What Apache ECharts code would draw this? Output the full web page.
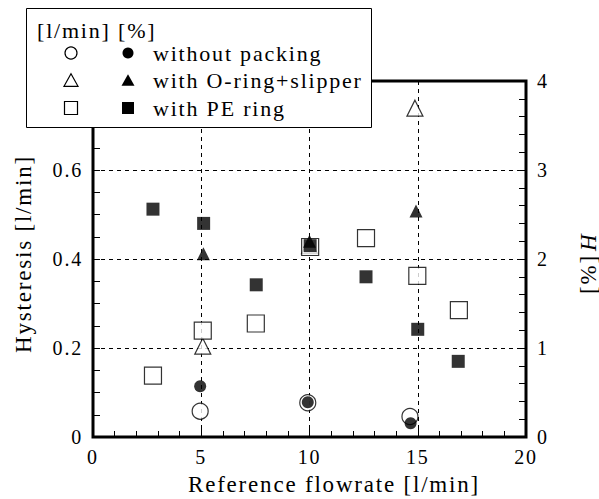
<!DOCTYPE html>
<html>
<head>
<meta charset="utf-8">
<script src="https://cdn.jsdelivr.net/npm/echarts@6/dist/echarts.min.js"></script>
<style>
html, body { margin: 0; padding: 0; background: #fff; }
#chart { width: 599px; height: 499px; }
/* Times-like face with slightly open character spacing, as in the printed figure */
#chart svg text { font-family: "Liberation Serif", "Times New Roman", serif !important; letter-spacing: 1.8px; }
</style>
</head>
<body>
<div id="chart"></div>
<script>
// Hysteresis of the flowmeter against reference flowrate, three sealing variants.
// Open symbols: hysteresis in l/min (left axis). Filled symbols: hysteresis in % (right axis).

var noPackFlowLpm   = [4.95, 9.92, 14.64];
var noPackHysLpm    = [0.058, 0.077, 0.046];
var noPackFlowPct   = [4.95, 9.92, 14.67];
var noPackHysPct    = [0.57, 0.39, 0.155];

var oringFlowLpm    = [5.07, 10.0, 14.87];
var oringHysLpm     = [0.204, 0.43, 0.739];
var oringFlowPct    = [5.1, 10.0, 14.92];
var oringHysPct     = [2.06, 2.2, 2.54];

var peFlowLpm       = [2.77, 5.07, 7.52, 10.03, 12.61, 14.98, 16.9];
var peHysLpm        = [0.138, 0.239, 0.255, 0.427, 0.447, 0.362, 0.285];
var peFlowPct       = [2.77, 5.11, 7.54, 10.03, 12.61, 15.0, 16.87];
var peHysPct        = [2.56, 2.40, 1.71, 2.15, 1.80, 1.21, 0.85];

var legendLabels    = ['without packing', 'with O-ring+slipper', 'with PE ring'];
var legendHeader    = '[l/min] [%]';
var xTitle          = 'Reference flowrate [l/min]';
var yLeftTitle      = 'Hysteresis [l/min]';

var FONT = 'Liberation Serif';

function pairs(xs, ys) {
  return xs.map(function (x, i) { return [x, ys[i]]; });
}

var hollow = { color: '#fff', borderColor: '#000', borderWidth: 1.2 };
var solid  = { color: '#000', borderWidth: 0 };

function scatter(name, data, axis, symbol, size, style) {
  return {
    name: name, type: 'scatter', yAxisIndex: axis, data: data,
    symbol: symbol, symbolSize: size, itemStyle: style,
    emphasis: { disabled: true }, animation: false, z: axis === 0 ? 2 : 3
  };
}

var chart = echarts.init(document.getElementById('chart'), null, { renderer: 'svg' });

var dashed = { show: true, lineStyle: { color: '#000', width: 1, type: [4, 4] } };

// legend box drawn with graphic primitives
var LX = 26, LY = 8, colA = 71, colB = 128, textX = 153, rows = [53, 80, 108];
var graphics = [
  { type: 'rect', shape: { x: LX + 0.5, y: LY + 0.5, width: 345, height: 119 },
    style: { fill: '#fff', stroke: '#000', lineWidth: 1 }, z: 100 },
  { type: 'text', x: 37, y: 30, z: 101,
    style: { text: legendHeader, font: '22px ' + FONT, fill: '#000', textVerticalAlign: 'middle' } }
];
legendLabels.forEach(function (lab, i) {
  graphics.push({ type: 'text', x: textX, y: rows[i], z: 101,
    style: { text: lab, font: '22px ' + FONT, fill: '#000', textVerticalAlign: 'middle' } });
});
// circles
graphics.push({ type: 'circle', shape: { cx: colA, cy: rows[0], r: 6 }, z: 101,
  style: { fill: '#fff', stroke: '#000', lineWidth: 1.2 } });
graphics.push({ type: 'circle', shape: { cx: colB, cy: rows[0], r: 5.5 }, z: 101,
  style: { fill: '#000' } });
// triangles
function tri(cx, cy, w) {
  var h = w * 0.9;
  return [[cx, cy - h / 2], [cx + w / 2, cy + h / 2], [cx - w / 2, cy + h / 2]];
}
graphics.push({ type: 'polygon', shape: { points: tri(colA, rows[1], 14) }, z: 101,
  style: { fill: '#fff', stroke: '#000', lineWidth: 1.2 } });
graphics.push({ type: 'polygon', shape: { points: tri(colB, rows[1], 13) }, z: 101,
  style: { fill: '#000' } });
// squares
graphics.push({ type: 'rect', shape: { x: colA - 6.5, y: rows[2] - 6.5, width: 13, height: 13 }, z: 101,
  style: { fill: '#fff', stroke: '#000', lineWidth: 1.2 } });
graphics.push({ type: 'rect', shape: { x: colB - 6, y: rows[2] - 6, width: 12, height: 12 }, z: 101,
  style: { fill: '#000' } });

// axis titles
graphics.push({ type: 'text', x: 334, y: 484, z: 50,
  style: { text: xTitle, font: '23px ' + FONT, fill: '#000', textAlign: 'center', textVerticalAlign: 'middle' } });
graphics.push({ type: 'text', x: 23, y: 254, rotation: Math.PI / 2, z: 50,
  style: { text: yLeftTitle, font: '23px ' + FONT, fill: '#000', textAlign: 'center', textVerticalAlign: 'middle' } });
graphics.push({ type: 'text', x: 588, y: 262, rotation: Math.PI / 2, z: 50,
  style: { text: '{n|[%] }{i|H}', textAlign: 'center', textVerticalAlign: 'middle',
    rich: { n: { font: '23px ' + FONT, fill: '#000' }, i: { font: 'italic 23px ' + FONT, fill: '#000' } } } });

chart.setOption({
  backgroundColor: '#fff',
  animation: false,
  grid: { left: 93, right: 73, top: 81, bottom: 62, show: true, borderColor: '#000', borderWidth: 3, backgroundColor: 'transparent' },
  xAxis: {
    type: 'value', min: 0, max: 20, interval: 5,
    axisLine: { show: false },
    axisTick: { show: true, inside: true, length: 9, lineStyle: { color: '#000', width: 1 } },
    minorTick: { show: true, splitNumber: 5, length: 6, lineStyle: { color: '#000', width: 1 } },
    axisLabel: { color: '#000', fontFamily: FONT, fontSize: 20, margin: 10 },
    splitLine: dashed
  },
  yAxis: [
    {
      type: 'value', min: 0, max: 0.8, interval: 0.2, position: 'left',
      axisLine: { show: false },
      axisTick: { show: true, inside: true, length: 7, lineStyle: { color: '#000', width: 1 } },
      minorTick: { show: true, splitNumber: 4, length: 7, lineStyle: { color: '#000', width: 1 } },
      axisLabel: { color: '#000', fontFamily: FONT, fontSize: 20, margin: 10 },
      splitLine: dashed
    },
    {
      type: 'value', min: 0, max: 4, interval: 1, position: 'right',
      axisLine: { show: false },
      axisTick: { show: true, inside: true, length: 7, lineStyle: { color: '#000', width: 1 } },
      minorTick: { show: true, splitNumber: 5, length: 7, lineStyle: { color: '#000', width: 1 } },
      axisLabel: { color: '#000', fontFamily: FONT, fontSize: 20, margin: 11 },
      splitLine: { show: false }
    }
  ],
  series: [
    scatter('without packing [l/min]', pairs(noPackFlowLpm, noPackHysLpm), 0, 'circle', 16, hollow),
    scatter('with O-ring+slipper [l/min]', pairs(oringFlowLpm, oringHysLpm), 0, 'triangle', 16, hollow),
    scatter('with PE ring [l/min]', pairs(peFlowLpm, peHysLpm), 0, 'rect', 17, hollow),
    scatter('with PE ring [%]', pairs(peFlowPct, peHysPct), 1, 'rect', 13, solid),
    scatter('with O-ring+slipper [%]', pairs(oringFlowPct, oringHysPct), 1, 'triangle', 13, solid),
    scatter('without packing [%]', pairs(noPackFlowPct, noPackHysPct), 1, 'circle', 12, solid)
  ],
  graphic: graphics
});
</script>
</body>
</html>
